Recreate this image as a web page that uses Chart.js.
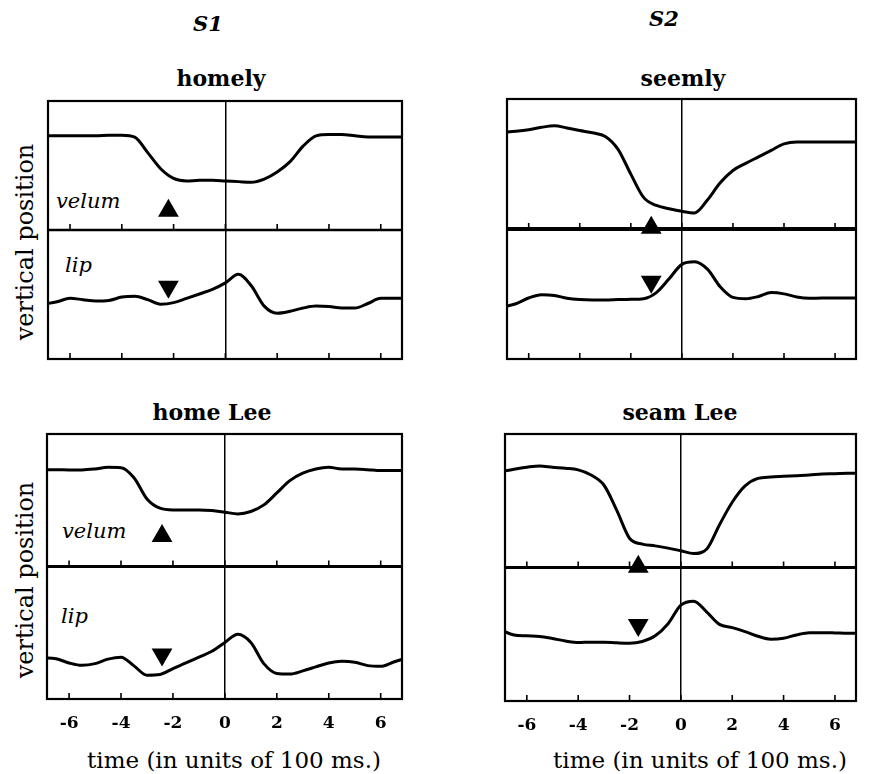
<!DOCTYPE html>
<html>
<head>
<meta charset="utf-8">
<title>velum and lip movement</title>
<script src="https://cdn.jsdelivr.net/npm/chart.js@4.4.1/dist/chart.umd.min.js"></script>
<style>
    html, body { margin: 0; padding: 0; background: #fff; }
    body { width: 869px; height: 774px; position: relative; overflow: hidden; font-family: 'DejaVu Serif', serif; color: #000; }
    canvas { position: absolute; }
    .lbl { position: absolute; white-space: nowrap; line-height: normal; }
    .subj { font-weight: bold; font-style: italic; font-size: 21px; transform: translateX(-50%); }
    .word { font-weight: bold; font-size: 22px; transform: translateX(-50%); }
    .art { font-style: italic; font-size: 21px; }
    .ytitle { font-size: 24px; transform: translate(-50%, -50%) rotate(-90deg); }
    .xtitle { font-size: 23px; transform: translateX(-50%); }
</style>
</head>
<body>

<div class="lbl subj" style="left:208px; top:11px;">S1</div>
<div class="lbl subj" style="left:664px; top:6px;">S2</div>

<div class="lbl word" style="left:221px; top:65px;">homely</div>
<div class="lbl word" style="left:683px; top:65px;">seemly</div>
<div class="lbl word" style="left:212px; top:399px;">home Lee</div>
<div class="lbl word" style="left:680px; top:399px;">seam Lee</div>

<div class="lbl art" style="left:56px; top:189px;">velum</div>
<div class="lbl art" style="left:65px; top:253px;">lip</div>
<div class="lbl art" style="left:62px; top:519px;">velum</div>
<div class="lbl art" style="left:61px; top:604px;">lip</div>

<div class="lbl ytitle" style="left:25px; top:242px;">vertical position</div>
<div class="lbl ytitle" style="left:25px; top:580px;">vertical position</div>

<div class="lbl xtitle" style="left:234px; top:747px;">time (in units of 100 ms.)</div>
<div class="lbl xtitle" style="left:700px; top:747px;">time (in units of 100 ms.)</div>

<canvas id="homely"></canvas>
<canvas id="seemly"></canvas>
<canvas id="homeLee"></canvas>
<canvas id="seamLee"></canvas>

<script>
// time in units of 100 ms, sampled every 0.5
const time = [-7, -6.5, -6, -5.5, -5, -4.5, -4, -3.5, -3, -2.5, -2, -1.5, -1, -0.5, 0,
    0.5, 1, 1.5, 2, 2.5, 3, 3.5, 4, 4.5, 5, 5.5, 6, 6.5, 7];
const tickValues = [-6, -4, -2, 0, 2, 4, 6];

// vertical positions, 0 = bottom of the trace strip, 100 = top
const homelyVelum = [73, 73, 73, 73, 73, 73.5, 73.5, 72, 60, 47.5, 40, 38, 38.5, 38.5, 38,
    37.5, 37, 39.5, 45, 53, 65, 73, 74, 74, 73, 72, 72, 72, 72];
const homelyLip = [42.5, 44.4, 47, 46, 45, 45.4, 48, 48.6, 46, 42.5, 43.7, 47, 50.4, 54, 59,
    65.7, 56.8, 41, 35.5, 37, 39.5, 41, 40.7, 39.5, 39.5, 43, 47, 47, 47];

const seemlyVelum = [74.4, 75.2, 76.4, 78.2, 79.4, 77.7, 75.7, 74, 71.2, 61.3, 42.2, 24.3, 18.1, 15.6, 13.6,
    12.4, 22.3, 35.5, 45, 50.5, 55.5, 60.5, 65.5, 67, 67, 67, 67, 67, 67];
const seemlyLip = [40, 42.5, 46.9, 49.4, 48.9, 46.7, 45.7, 45.4, 45.4, 45.7, 45.9, 46.4, 51.1, 61.7, 72.8,
    74.8, 69.1, 55.6, 47.4, 46.4, 48.1, 51.1, 50.1, 47.7, 46.7, 46.9, 46.9, 46.9, 46.9];

const homeLeeVelum = [73.1, 73.1, 72.9, 72.9, 73.6, 74.9, 74.6, 67, 51, 44, 42.7, 42.7, 42.7, 42.2, 41,
    39.7, 41.5, 46.5, 55.5, 64.8, 70.4, 73.6, 74.9, 73.6, 73.6, 73.1, 72.4, 72.4, 72.4];
const homeLeeLip = [31.1, 30.4, 27.2, 25.4, 26.7, 30.1, 31.6, 25, 18, 18.5, 23, 27.2, 31.6, 36, 42.7,
    48.9, 42.7, 26.7, 19.3, 18.8, 21.2, 24.2, 27.2, 28.4, 27.7, 25.2, 24.7, 27.9, 31];

const seamLeeVelum = [71.8, 73.6, 75.1, 76.1, 75.1, 74.3, 73.1, 69.3, 61.8, 43, 21.9, 17.5, 16.2, 14.5, 12.5,
    10.5, 13.7, 31.9, 48.9, 61.1, 66.8, 67.8, 68.3, 68.8, 69.3, 70.1, 70.3, 70.6, 70.6];
const seamLeeLip = [53, 49.5, 48.8, 48.3, 46.8, 45, 43.8, 44.1, 44.1, 43.6, 43.3, 44.6, 48.8, 57.9, 71.8,
    74.8, 66.8, 57.4, 55, 52, 48.5, 46.3, 47, 49.5, 51.2, 51.2, 51, 50.7, 50.7];

// triangle markers: homely, seemly, home Lee, seam Lee
const markerTime = [-2.2, -1.2, -2.42, -1.66];
const velumMarker = [15, 1, 23, 0.5];
const lipMarker = [56, 59.5, 33.6, 57];

Chart.defaults.font.family = "'DejaVu Serif', serif";
Chart.defaults.color = '#000';

const framePlugin = {
    id: 'frame',
    afterDatasetsDraw(chart, args, opts) {
        const { ctx, chartArea: a, scales } = chart;
        const mid = scales.yl.top;
        ctx.save();
        ctx.strokeStyle = '#000';
        ctx.lineWidth = 2.2;
        ctx.strokeRect(a.left, a.top, a.width, a.height);
        ctx.lineWidth = opts.divider;
        ctx.beginPath();
        ctx.moveTo(a.left - 1, mid);
        ctx.lineTo(a.right + 1, mid);
        ctx.stroke();
        // small inward ticks on the divider and on the bottom edge
        ctx.lineWidth = 1.6;
        ctx.beginPath();
        scales.x.ticks.forEach(t => {
            const px = scales.x.getPixelForValue(t.value);
            [mid, a.bottom].forEach(yb => {
                ctx.moveTo(px, yb);
                ctx.lineTo(px, yb - 6);
            });
        });
        ctx.stroke();
        ctx.restore();
    }
};

function makePanel(cfg) {
    const canvas = document.getElementById(cfg.id);
    const padR = Math.min(10, 868 - cfg.right);
    const axisH = cfg.axis ? 34 : 0;
    canvas.width = cfg.right - cfg.left + 10 + padR;
    canvas.height = cfg.bottom - cfg.top + 10 + axisH + 4;
    canvas.style.left = (cfg.left - 10) + 'px';
    canvas.style.top = (cfg.top - 10) + 'px';

    const trace = (vals, axis) => ({
        data: time.map((t, i) => ({ x: t, y: vals[i] })),
        yAxisID: axis,
        borderColor: '#000',
        borderWidth: 3,
        pointRadius: 0,
        cubicInterpolationMode: 'monotone',
        fill: false
    });
    const marker = (y, axis, rot) => ({
        data: [{ x: markerTime[cfg.mark], y }],
        yAxisID: axis,
        showLine: false,
        clip: false,
        pointStyle: 'triangle',
        pointRadius: 12,
        rotation: rot,
        pointBackgroundColor: '#000',
        pointBorderWidth: 0
    });

    return new Chart(canvas, {
        type: 'line',
        data: {
            datasets: [
                trace(cfg.velum, 'yv'),
                trace(cfg.lip, 'yl'),
                marker(velumMarker[cfg.mark], 'yv', 0),
                marker(lipMarker[cfg.mark], 'yl', 180)
            ]
        },
        options: {
            responsive: false,
            animation: false,
            devicePixelRatio: 1,
            events: [],
            layout: { padding: { left: 10, top: 10, right: padR, bottom: 4 } },
            plugins: {
                legend: { display: false },
                tooltip: { enabled: false },
                frame: { divider: cfg.divider }
            },
            scales: {
                x: {
                    type: 'linear',
                    min: -6.85,
                    max: 6.82,
                    afterBuildTicks: (s) => { s.ticks = tickValues.map(v => ({ value: v })); },
                    afterFit: (s) => { s.height = axisH; },
                    border: { display: false },
                    grid: {
                        drawTicks: false,
                        lineWidth: 1.5,
                        color: (c) => (c.tick && c.tick.value === 0 ? '#000' : 'rgba(0,0,0,0)')
                    },
                    ticks: {
                        display: cfg.axis,
                        padding: 14,
                        font: { size: 17, weight: 'bold' },
                        callback: (v) => String(v)
                    }
                },
                yv: {
                    type: 'linear', position: 'left', stack: 'panel', stackWeight: 1, weight: 1,
                    min: 0, max: 100, display: false
                },
                yl: {
                    type: 'linear', position: 'left', stack: 'panel', stackWeight: 1, weight: 0,
                    min: 0, max: 100, display: false
                }
            }
        },
        plugins: [framePlugin]
    });
}

makePanel({ id: 'homely', left: 46, top: 99, right: 404, bottom: 367, velum: homelyVelum, lip: homelyLip, mark: 0, axis: false, divider: 2.6 });
makePanel({ id: 'seemly', left: 505, top: 97, right: 866, bottom: 367, velum: seemlyVelum, lip: seemlyLip, mark: 1, axis: false, divider: 3.8 });
makePanel({ id: 'homeLee', left: 45, top: 432, right: 404, bottom: 699, velum: homeLeeVelum, lip: homeLeeLip, mark: 2, axis: true, divider: 3 });
makePanel({ id: 'seamLee', left: 503, top: 432, right: 864, bottom: 701, velum: seamLeeVelum, lip: seamLeeLip, mark: 3, axis: true, divider: 3 });
</script>
</body>
</html>
